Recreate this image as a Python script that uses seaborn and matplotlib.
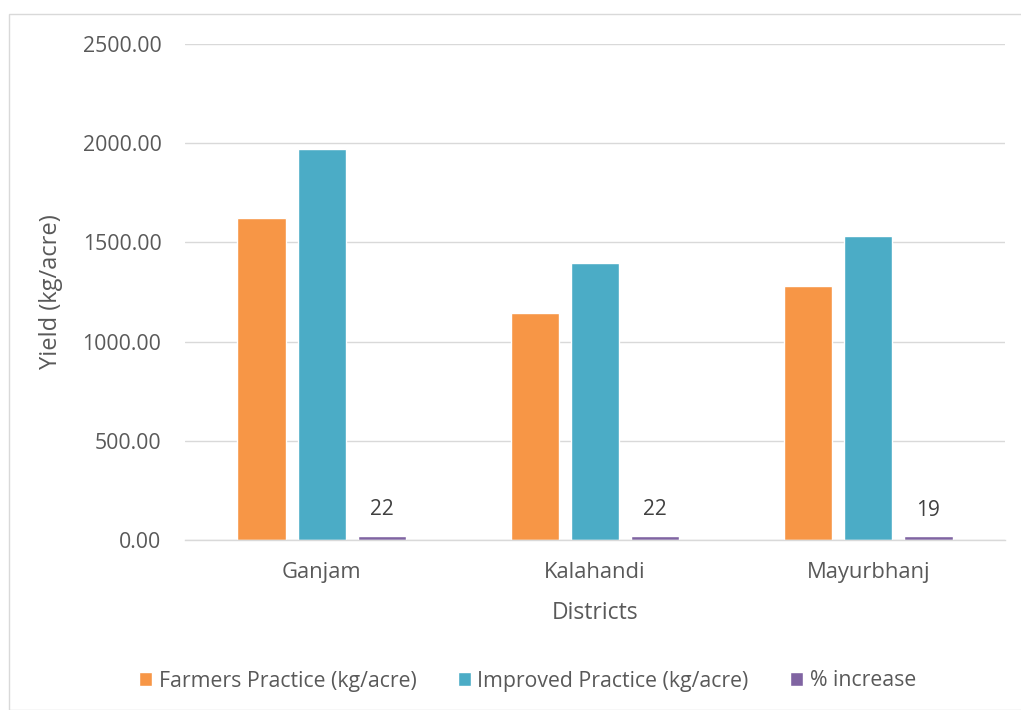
import matplotlib
matplotlib.use("Agg")
import matplotlib.pyplot as plt
import seaborn as sns
import pandas as pd
from matplotlib.patches import Rectangle

districts = ["Ganjam", "Kalahandi", "Mayurbhanj"]
farmers = [1623, 1144, 1282]
improved = [1971, 1397, 1533]
pct_increase = [22, 22, 19]
series_names = ["Farmers Practice (kg/acre)", "Improved Practice (kg/acre)", "% increase"]
colors = ["#F79646", "#4BACC6", "#8064A2"]
yticks = [0, 500, 1000, 1500, 2000, 2500]

rows = []
for name, vals in zip(series_names, [farmers, improved, pct_increase]):
    for d, v in zip(districts, vals):
        rows.append({"District": d, "Series": name, "Value": v})
df = pd.DataFrame(rows)

sns.set_theme(style="white")
plt.rcParams["font.family"] = ["Open Sans", "DejaVu Sans"]

fig = plt.figure(figsize=(10.21, 7.10), dpi=100)
ax = fig.add_axes([185/1021, 1-540/710, (1005-185)/1021, (540-44)/710])

sns.barplot(data=df, x="District", y="Value", hue="Series", palette=colors,
            width=0.66, gap=0.2, ax=ax, legend=True, saturation=1, errorbar=None)

ax.set_ylim(0, 2500)
ax.set_xlim(-0.5, 2.5)
ax.set_yticks(yticks)
ax.set_yticklabels([f"{v:.2f}" for v in yticks])
ax.yaxis.grid(True, color="#D9D9D9", linewidth=1)
ax.set_axisbelow(True)
for s in ["top", "right", "left"]:
    ax.spines[s].set_visible(False)
ax.spines["bottom"].set_color("#D9D9D9")
ax.spines["bottom"].set_linewidth(1)
ax.tick_params(axis="y", length=0, pad=17, labelsize=15.3, labelcolor="#595959")
ax.tick_params(axis="x", length=0, pad=16, labelsize=15.8, labelcolor="#595959")
ax.set_xlabel("Districts", fontsize=16.5, color="#595959", labelpad=13)
ax.set_ylabel("Yield (kg/acre)", fontsize=17, color="#595959", labelpad=14)

ax.bar_label(ax.containers[2], labels=[str(v) for v in pct_increase],
             padding=11, fontsize=15, color="#404040")

handles, labels = ax.get_legend_handles_labels()
ax.legend(handles, labels, loc="center", bbox_to_anchor=(0.5167, 1-681/710),
          bbox_transform=fig.transFigure, ncol=3, frameon=False, fontsize=15.3,
          labelcolor="#595959", handlelength=0.6, handleheight=0.6,
          handletextpad=0.32, columnspacing=1.95)

fig.patches.append(Rectangle((9/1021, 0), 1.2, 1-14/710, transform=fig.transFigure,
                             fill=False, edgecolor="#D9D9D9", linewidth=1))

fig.savefig("out.png", dpi=100)
